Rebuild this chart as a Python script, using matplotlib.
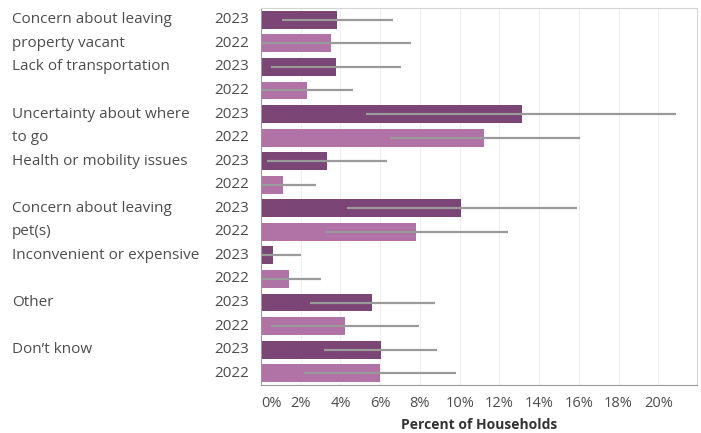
import matplotlib.pyplot as plt
from matplotlib.transforms import blended_transform_factory

plt.rcParams['font.family'] = ['Open Sans', 'DejaVu Sans']

# Reasons for not evacuating, shares in percent
categories = ['Concern about leaving\nproperty vacant', 'Lack of transportation',
              'Uncertainty about where\nto go', 'Health or mobility issues',
              'Concern about leaving\npet(s)', 'Inconvenient or expensive',
              'Other', "Don\u2019t know"]
years = ['2023', '2022']
pct_2023 = [3.84, 3.76, 13.13, 3.34, 10.08, 0.62, 5.61, 6.05]
pct_2022 = [3.51, 2.30, 11.23, 1.09, 7.81, 1.39, 4.25, 6.00]
low_2023 = [1.04, 0.49, 5.29, 0.32, 4.32, 0.0, 2.47, 3.17]
high_2023 = [6.67, 7.05, 20.9, 6.36, 15.9, 2.0, 8.78, 8.88]
low_2022 = [0.0, 0.0, 6.47, 0.0, 3.22, 0.0, 0.49, 2.17]
high_2022 = [7.56, 4.65, 16.04, 2.75, 12.41, 3.04, 7.97, 9.81]
xticks = [0, 2, 4, 6, 8, 10, 12, 14, 16, 18, 20]

dark = '#7b4576'
light = '#b172a6'
err_col = '#9a9a9a'
txt = '#4d4d4d'

fig = plt.figure(figsize=(7.01, 4.33), dpi=100)
ax = fig.add_axes([261 / 701, 1 - 385 / 433, 436 / 701, 377 / 433])

y23 = [2 * i for i in range(len(categories))]
y22 = [2 * i + 1 for i in range(len(categories))]

ax.barh(y23, pct_2023, height=0.76, color=dark, zorder=2)
ax.barh(y22, pct_2022, height=0.76, color=light, zorder=2)
ax.hlines(y23, low_2023, high_2023, color=err_col, lw=1.6, zorder=3)
ax.hlines(y22, low_2022, high_2022, color=err_col, lw=1.6, zorder=3)

ax.set_ylim(len(categories) * 2 - 0.5, -0.5)
ax.set_xlim(0, 21.95)
ax.set_yticks([])

ax.set_xticks(xticks)
ax.set_xticklabels([f'{t}%' for t in xticks], fontsize=10.5, color=txt)
ax.get_xticklabels()[0].set_horizontalalignment('left')
ax.tick_params(axis='x', length=0, pad=8)
ax.grid(axis='x', color='#efefef', lw=0.8, zorder=0)
ax.set_axisbelow(True)

for side in ['top', 'right']:
    ax.spines[side].set_color('#d4d4d4')
for side in ['left', 'bottom']:
    ax.spines[side].set_color('#9a9a9a')

ax.set_xlabel('Percent of Households', fontsize=10, fontweight='bold',
              color='#333333', labelpad=5)

# Row labels on the left: category text and year
tr = blended_transform_factory(fig.transFigure, ax.transData)
for i, cat in enumerate(categories):
    for j, line in enumerate(cat.split('\n')):
        ax.text(12 / 701, 2 * i + j, line, transform=tr, fontsize=11,
                color=txt, va='center', ha='left')
    for j, yr in enumerate(years):
        ax.text(249 / 701, 2 * i + j, yr, transform=tr, fontsize=11,
                color=txt, va='center', ha='right')

fig.savefig('out.png', dpi=100)
